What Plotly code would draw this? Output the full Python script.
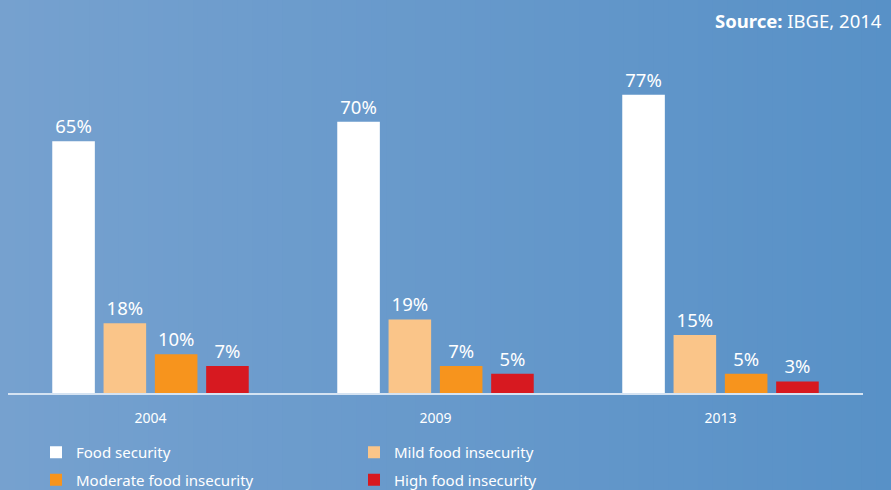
import plotly.graph_objects as go

years = ["2004", "2009", "2013"]
food_security = [65, 70, 77]
mild_insecurity = [18, 19, 15]
moderate_insecurity = [10, 7, 5]
high_insecurity = [7, 5, 3]

series_names = ["Food security", "Mild food insecurity", "Moderate food insecurity", "High food insecurity"]
series_values = [food_security, mild_insecurity, moderate_insecurity, high_insecurity]
series_colors = ["#FFFFFF", "#FAC589", "#F7941D", "#D71920"]
series_legend = ["legend", "legend2", "legend", "legend2"]

W, H = 891, 490
L, R, T, B = 8, 28, 83, 97
pw, ph = W - L - R, H - T - B

fig = go.Figure()
for name, vals, col, lg in zip(series_names, series_values, series_colors, series_legend):
    fig.add_trace(go.Bar(
        x=years, y=vals, name=name, legend=lg, legendgroup=name,
        marker=dict(color=col, line=dict(width=0)),
        text=[f"{v}%" for v in vals], textposition="outside",
        textfont=dict(color="white", size=18.5, family="Noto Sans"),
        cliponaxis=False,
    ))

# background gradient (left lighter -> right darker)
c0 = (118, 161, 207)
c1 = (88, 145, 199)
n = 60
shapes = []
for i in range(n):
    f = i / (n - 1)
    col = tuple(int(round(a + (b - a) * f)) for a, b in zip(c0, c1))
    px0 = W * i / n
    px1 = W * (i + 1) / n + 1
    shapes.append(dict(
        type="rect", xref="paper", yref="paper", layer="below",
        x0=(px0 - L) / pw, x1=(px1 - L) / pw,
        y0=-2, y1=3,
        fillcolor=f"rgb{col}", line=dict(width=0),
    ))

legend_common = dict(
    orientation="v", xanchor="left", yanchor="top",
    xref="paper", yref="container",
    font=dict(size=15, color="white"), bgcolor="rgba(0,0,0,0)",
    itemclick=False, tracegroupgap=5, traceorder="grouped",
)

fig.update_layout(
    width=W, height=H,
    margin=dict(l=L, r=R, t=T, b=B),
    paper_bgcolor="rgb(104,153,203)",
    plot_bgcolor="rgba(0,0,0,0)",
    barmode="group", bargap=0.28, bargroupgap=0.17,
    shapes=shapes,
    font=dict(family="Noto Sans", color="white"),
    showlegend=True,
    legend=dict(x=(36 - L) / pw, y=(H - 436) / H, **legend_common),
    legend2=dict(x=(354 - L) / pw, y=(H - 436) / H, **legend_common),
    annotations=[dict(
        text="<b>Source:</b> IBGE, 2014", xref="paper", yref="paper",
        x=(884 - L) / pw, y=(H - 20 - B) / ph, xanchor="right", yanchor="middle",
        showarrow=False, font=dict(size=18.5, color="white", family="Noto Sans"),
    )],
)
fig.update_xaxes(
    showline=True, linecolor="#D5E3F2", linewidth=2, showgrid=False,
    tickfont=dict(size=14, color="white"), ticks="", ticklabelstandoff=11,
    range=[-0.5, 2.5],
)
fig.update_yaxes(visible=False, range=[0, 80], showgrid=False)

fig.write_html(
    "out.html",
    config={"displayModeBar": False},
    post_script="document.body.style.margin='0';document.body.style.overflow='hidden';",
)
